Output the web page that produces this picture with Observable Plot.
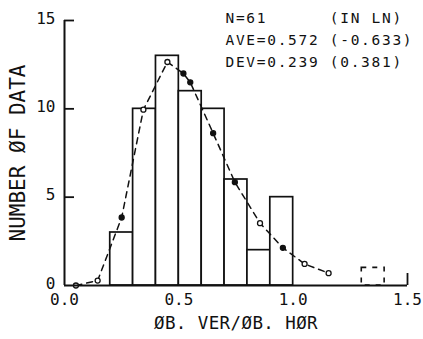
<!DOCTYPE html>
<html>
<head>
<meta charset="utf-8">
<script src="https://cdn.jsdelivr.net/npm/d3@7"></script>
<script src="https://cdn.jsdelivr.net/npm/@observablehq/plot@0.6"></script>
<style>
  html, body { margin: 0; padding: 0; background: white; }
  #chart svg { display: block; }
</style>
</head>
<body>
<div id="chart"></div>
<script>
// ---- data ----
const binStart = [0.2, 0.3, 0.4, 0.5, 0.6, 0.7, 0.8, 0.9];
const binCount = [3, 10, 13, 11, 10, 6, 2, 5];
const binWidth = 0.1;
const outlierStart = [1.3];
const outlierCount = [1];

const curveX = [0.05, 0.145, 0.25, 0.345, 0.45, 0.52, 0.55, 0.65, 0.745, 0.855, 0.955, 1.05, 1.155];
const curveY = [0.0, 0.28, 3.85, 9.95, 12.65, 12.0, 11.5, 8.62, 5.85, 3.53, 2.13, 1.22, 0.70];
const markerType = ["open", "open", "filled", "open", "open", "filled", "filled", "filled", "filled", "open", "filled", "open", "open"];

const xTicks = [0, 0.5, 1.0, 1.5];
const xTickLabels = ["0.0", "0.5", "1.0", "1.5"];
const yTicks = [0, 5, 10, 15];
const yTickLabels = ["0", "5", "10", "15"];

const statsLines = ["N=61      (IN LN)", "AVE=0.572 (-0.633)", "DEV=0.239 (0.381)"];
const xLabel = "ØB. VER/ØB. HØR";
const yLabel = "NUMBER ØF DATA";

// ---- tables built from the arrays ----
const bars = binStart.map((s, i) => ({x1: s, x2: s + binWidth, n: binCount[i]}));
const outliers = outlierStart.map((s, i) => ({x1: s, x2: s + binWidth, n: outlierCount[i]}));
const curve = curveX.map((x, i) => ({x, y: curveY[i], m: markerType[i]}));

const W = 423, H = 339, ML = 64, MR = 16, MT = 20, MB = 54;
const xMax = 1.5, yMax = 15;
const innerTick = 10 / (W - ML - MR) * xMax;   // 10px inward tick, in x units
const endTick = 12 / (H - MT - MB) * yMax;      // 12px up-tick at right end, in y units
const font = "DejaVu Sans Mono";

const chart = Plot.plot({
  width: W,
  height: H,
  marginLeft: ML,
  marginRight: MR,
  marginTop: MT,
  marginBottom: MB,
  x: {domain: [0, xMax]},
  y: {domain: [0, yMax]},
  style: {fontFamily: font, background: "white", color: "#111"},
  marks: [
    Plot.rect(bars, {x1: "x1", x2: "x2", y1: 0, y2: "n", fill: "white", stroke: "#111", strokeWidth: 1.7}),
    Plot.rect(outliers, {x1: "x1", x2: "x2", y1: 0, y2: "n", fill: "none", stroke: "#111", strokeWidth: 1.6, strokeDasharray: "5,6"}),
    Plot.line(curve, {x: "x", y: "y", stroke: "#111", strokeWidth: 1.5, strokeDasharray: "6,5"}),
    Plot.dot(curve, {x: "x", y: "y", r: 2.5, stroke: "#111", strokeWidth: 1.3, fill: d => d.m === "filled" ? "#111" : "white"}),
    Plot.ruleX([0], {y1: 0, y2: yMax, stroke: "#111", strokeWidth: 2}),
    Plot.ruleY([0], {x1: 0, x2: xMax, stroke: "#111", strokeWidth: 2}),
    Plot.ruleY(yTicks.slice(1), {x1: 0, x2: innerTick, stroke: "#111", strokeWidth: 1.8}),
    Plot.ruleX([xMax], {y1: 0, y2: endTick, stroke: "#111", strokeWidth: 1.8}),
    Plot.axisY(yTicks, {tickSize: 0, tickPadding: 9, fontSize: 16, dy: -2, label: null,
      tickFormat: d => yTickLabels[yTicks.indexOf(d)]}),
    Plot.axisX(xTicks, {tickSize: 0, tickPadding: 8, fontSize: 16, label: null,
      tickFormat: d => xTickLabels[xTicks.indexOf(d)]}),
    Plot.text([xLabel], {frameAnchor: "bottom", textAnchor: "middle", dy: 43, fontSize: 17.5, fill: "#111"}),
    Plot.text([yLabel], {frameAnchor: "left", textAnchor: "middle", dx: -46, rotate: -90, fontSize: 21, fill: "#111"}),
    Plot.text([statsLines.join("\n")], {frameAnchor: "top-left", textAnchor: "start", lineAnchor: "middle",
      dx: 161, dy: 17.7, fontSize: 14.5, lineHeight: 1.5, fill: "#111"})
  ]
});
d3.select(chart).selectAll("text")
  .filter(function () { return this.textContent.includes("AVE"); })
  .style("letter-spacing", "1.7px");
d3.select(chart).selectAll("text")
  .filter(function () { return this.textContent.includes("VER"); })
  .style("letter-spacing", "0.4px");
document.getElementById("chart").append(chart);
</script>
</body>
</html>
